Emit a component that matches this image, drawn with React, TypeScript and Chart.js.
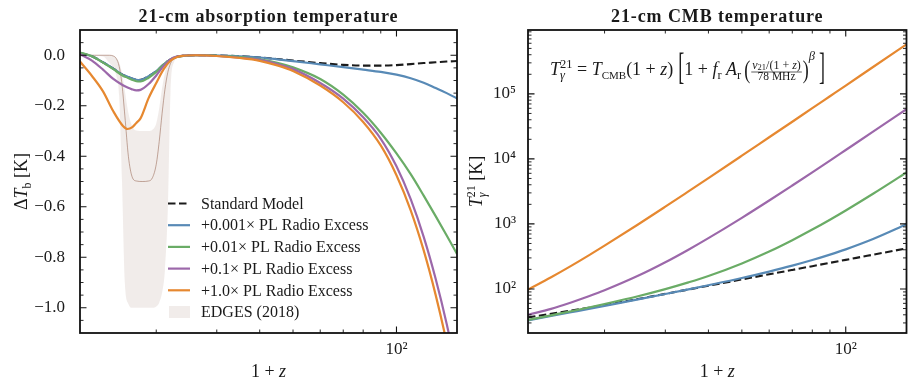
import React, { useEffect, useRef } from "react";
import { Chart, registerables } from "chart.js";
Chart.register(...registerables);

const FF = "'Liberation Serif', 'Times New Roman', serif";

// ---------------- Left panel: 21-cm absorption temperature ----------------
const zLeft = [12, 13, 14, 15, 16, 16.5, 17, 17.5, 18, 19, 20, 21, 22, 23, 24, 26, 28, 30, 35, 40, 45, 50, 60, 70, 80, 90, 100, 110, 120, 130, 140, 150];
const dTStandard = [0.009, -0.004, -0.028, -0.053, -0.078, -0.085, -0.092, -0.097, -0.097, -0.083, -0.063, -0.037, -0.017, -0.006, -0.002, 0, 0, -0.001, -0.004, -0.009, -0.015, -0.021, -0.031, -0.038, -0.041, -0.041, -0.039, -0.035, -0.031, -0.028, -0.025, -0.023];
const dTRadio0001 = [0.009, -0.004, -0.028, -0.053, -0.078, -0.085, -0.092, -0.097, -0.098, -0.083, -0.063, -0.037, -0.017, -0.006, -0.002, 0, 0, -0.001, -0.004, -0.009, -0.016, -0.023, -0.036, -0.047, -0.057, -0.066, -0.077, -0.091, -0.109, -0.13, -0.15, -0.171];
const dTRadio001 = [0.011, -0.004, -0.029, -0.055, -0.081, -0.089, -0.097, -0.103, -0.104, -0.089, -0.066, -0.038, -0.017, -0.006, -0.002, 0, 0, -0.002, -0.007, -0.016, -0.03, -0.048, -0.094, -0.156, -0.228, -0.307, -0.389, -0.471, -0.556, -0.637, -0.714, -0.787];
const dTRadio01 = [0.004, -0.021, -0.057, -0.094, -0.119, -0.128, -0.135, -0.139, -0.137, -0.114, -0.08, -0.043, -0.016, -0.005, -0.001, 0, -0.001, -0.003, -0.01, -0.018, -0.035, -0.055, -0.11, -0.172, -0.246, -0.331, -0.44, -0.57, -0.719, -0.885, -1.064, -1.257];
const dTRadio1 = [-0.025, -0.082, -0.143, -0.222, -0.28, -0.292, -0.286, -0.268, -0.25, -0.17, -0.11, -0.056, -0.022, -0.007, -0.002, 0, -0.001, -0.003, -0.011, -0.022, -0.04, -0.062, -0.12, -0.186, -0.264, -0.357, -0.475, -0.614, -0.773, -0.949, -1.138, -1.339];

// EDGES (2018) band and best-fit profile
const zEdges = [12, 14, 14.6, 15.0, 15.3, 15.6, 15.9, 16.2, 16.6, 17.0, 17.5, 18.2, 19.0, 19.5, 20.0, 20.4, 20.8, 21.2, 21.6, 22.0, 22.5, 23.5, 25];
const edgesUpper = [0, 0, 0, -0.002, -0.01, -0.03, -0.07, -0.14, -0.23, -0.28, -0.298, -0.3, -0.3, -0.295, -0.27, -0.21, -0.13, -0.07, -0.03, -0.012, -0.004, 0, 0];
const edgesLower = [0, -0.005, -0.03, -0.05, -0.08, -0.16, -0.5, -0.9, -0.985, -1.0, -1.0, -1.0, -1.0, -1.0, -0.995, -0.98, -0.94, -0.85, -0.62, -0.15, -0.03, -0.003, 0];
const edgesCenter = [0, 0, 0, -0.003, -0.013, -0.044, -0.116, -0.237, -0.402, -0.48, -0.498, -0.5, -0.498, -0.485, -0.432, -0.342, -0.23, -0.135, -0.069, -0.033, -0.012, -0.001, 0];

const leftYTicks = [-1.0, -0.8, -0.6, -0.4, -0.2, 0.0];

// ---------------- Right panel: 21-cm CMB temperature ----------------
const zRight = [12, 14, 16, 18, 20, 25, 30, 35, 40, 50, 60, 70, 80, 90, 100, 120, 150];
const TStandard = [36.5, 41.5, 46.5, 51.5, 56.5, 70, 84, 98, 112, 140, 168, 196, 224, 252, 280, 336, 420];
const TRadio0001 = [32.8, 38.3, 43.8, 49.3, 54.9, 69.0, 83.5, 98.5, 114, 147, 185, 228, 278, 337, 406, 585, 985];
const TRadio001 = [33.3, 39.3, 45.4, 51.8, 58.6, 77.2, 99.3, 126, 158, 247, 376, 562, 818, 1160, 1610, 2910, 6180];
const TRadio01 = [40, 49.4, 61.9, 77.0, 95.3, 159, 257, 401, 604, 1240, 2290, 3900, 6220, 9420, 13700, 26200, 58100];
const TRadio1 = [97.5, 151, 226, 328, 463, 979, 1840, 3160, 5060, 11200, 21500, 37300, 60300, 91900, 134000, 259000, 577000];

const rightYTicks = [1e2, 1e3, 1e4, 1e5];
const supLabel: Record<string, string> = { "100": "10²", "1000": "10³", "10000": "10⁴", "100000": "10⁵" };

const LABELS = ["Standard Model", "+0.001× PL Radio Excess", "+0.01× PL Radio Excess", "+0.1× PL Radio Excess", "+1.0× PL Radio Excess", "EDGES (2018)"];
const COLORS = ["#1b1b1b", "rgb(88,138,182)", "rgb(106,172,102)", "rgb(156,104,170)", "rgb(230,136,48)"];
const EDGES_FILL = "rgba(150,110,90,0.13)";
const EDGES_LINE = "rgba(150,100,80,0.55)";

// ---------------- rich text helpers ----------------
type Run = { t: string; s: number; i?: boolean; b?: boolean; dy?: number };
type Item =
  | { k: "r"; runs: Run[] }
  | { k: "ss"; sup?: Run[]; sub?: Run[] }
  | { k: "big"; t: string; s: number; sy: number; cy: number }
  | { k: "frac"; num: Run[]; den: Run[]; ny: number; dy: number; ly: number; pad: number }
  | { k: "gap"; w: number };

const fnt = (r: { s: number; i?: boolean; b?: boolean }) => `${r.i ? "italic " : ""}${r.b ? "bold " : ""}${r.s}px ${FF}`;
function runsW(ctx: CanvasRenderingContext2D, runs: Run[]) {
  let w = 0;
  for (const r of runs) { ctx.font = fnt(r); w += ctx.measureText(r.t).width; }
  return w;
}
function drawRuns(ctx: CanvasRenderingContext2D, runs: Run[], x: number, y: number) {
  for (const r of runs) { ctx.font = fnt(r); ctx.fillText(r.t, x, y + (r.dy || 0)); x += ctx.measureText(r.t).width; }
  return x;
}
function itemW(ctx: CanvasRenderingContext2D, it: Item): number {
  if (it.k === "r") return runsW(ctx, it.runs);
  if (it.k === "ss") return Math.max(it.sup ? runsW(ctx, it.sup) : 0, it.sub ? runsW(ctx, it.sub) : 0);
  if (it.k === "big") { ctx.font = fnt({ s: it.s }); return ctx.measureText(it.t).width; }
  if (it.k === "frac") return Math.max(runsW(ctx, it.num), runsW(ctx, it.den)) + 2 * it.pad;
  return it.w;
}
function itemsW(ctx: CanvasRenderingContext2D, items: Item[]) { return items.reduce((a, it) => a + itemW(ctx, it), 0); }
function drawItems(ctx: CanvasRenderingContext2D, items: Item[], x: number, y: number) {
  ctx.textAlign = "left";
  ctx.textBaseline = "alphabetic";
  for (const it of items) {
    const w = itemW(ctx, it);
    if (it.k === "r") drawRuns(ctx, it.runs, x, y);
    else if (it.k === "ss") { if (it.sup) drawRuns(ctx, it.sup, x, y); if (it.sub) drawRuns(ctx, it.sub, x, y); }
    else if (it.k === "big") {
      ctx.save();
      ctx.font = fnt({ s: it.s });
      ctx.translate(x, y + it.cy);
      ctx.scale(1, it.sy);
      ctx.fillText(it.t, 0, 0.25 * it.s);
      ctx.restore();
    } else if (it.k === "frac") {
      const nw = runsW(ctx, it.num), dw = runsW(ctx, it.den);
      drawRuns(ctx, it.num, x + (w - nw) / 2, y + it.ny);
      drawRuns(ctx, it.den, x + (w - dw) / 2, y + it.dy);
      ctx.fillRect(x + 1, y + it.ly - 0.35, w - 2, 0.7);
    }
    x += w;
  }
}

const TXT = "#1a1a1a";

function drawTicksFrame(chart: any, xMaj: number[], xMin: number[], yMaj: number[], yMin: number[]) {
  const { ctx, chartArea: a, scales } = chart;
  const sx = scales.x, sy = scales.y;
  ctx.save();
  ctx.strokeStyle = "#111";
  const MAJ = 6.5, MIN = 3.5;
  const vx = (vals: number[], len: number) => vals.forEach((v) => {
    const p = sx.getPixelForValue(v);
    ctx.moveTo(p, a.bottom); ctx.lineTo(p, a.bottom - len);
    ctx.moveTo(p, a.top); ctx.lineTo(p, a.top + len);
  });
  const vy = (vals: number[], len: number) => vals.forEach((v) => {
    const p = sy.getPixelForValue(v);
    ctx.moveTo(a.left, p); ctx.lineTo(a.left + len, p);
    ctx.moveTo(a.right, p); ctx.lineTo(a.right - len, p);
  });
  ctx.lineWidth = 0.9;
  ctx.beginPath(); vx(xMin, MIN); vy(yMin, MIN); ctx.stroke();
  ctx.lineWidth = 1.1;
  ctx.beginPath(); vx(xMaj, MAJ); vy(yMaj, MAJ); ctx.stroke();
  ctx.lineWidth = 1.8;
  ctx.strokeRect(a.left, a.top, a.right - a.left, a.bottom - a.top);
  ctx.restore();
}

function drawTitle(chart: any, text: string) {
  const { ctx, chartArea: a } = chart;
  ctx.save();
  ctx.fillStyle = TXT;
  ctx.font = `bold 18px ${FF}`;
  (ctx as any).letterSpacing = "0.9px";
  ctx.textAlign = "center";
  ctx.textBaseline = "alphabetic";
  ctx.fillText(text, (a.left + a.right) / 2, 22);
  ctx.restore();
}

function drawXTitle(chart: any) {
  const { ctx, chartArea: a } = chart;
  const items: Item[] = [{ k: "r", runs: [{ t: "1 + ", s: 18 }, { t: "z", s: 18, i: true }] }];
  ctx.save();
  ctx.fillStyle = TXT;
  const w = itemsW(ctx, items);
  drawItems(ctx, items, (a.left + a.right) / 2 - w / 2, 377);
  ctx.restore();
}

function drawYTitle(chart: any, items: Item[], cx: number) {
  const { ctx, chartArea: a } = chart;
  ctx.save();
  ctx.fillStyle = TXT;
  const w = itemsW(ctx, items);
  ctx.translate(cx, (a.top + a.bottom) / 2);
  ctx.rotate(-Math.PI / 2);
  drawItems(ctx, items, -w / 2, 0);
  ctx.restore();
}

const pts = (xs: number[], ys: number[]) => xs.map((x, i) => ({ x, y: ys[i] }));

function leftMinorY() {
  const out: number[] = [];
  for (let i = -21; i <= 1; i++) if (i % 4 !== 0) out.push(i * 0.05);
  return out;
}
function rightMinorY() {
  const out: number[] = [];
  for (let k = 1; k <= 5; k++) for (let m = 2; m <= 9; m++) { const v = m * Math.pow(10, k); if (v >= 21 && v <= 9.6e5) out.push(v); }
  return out;
}
const xMinorTicks = [20, 30, 40, 50, 60, 70, 80, 90];

function lineDs(label: string, xs: number[], ys: number[], color: string, order: number, dash?: number[]) {
  return {
    label, data: pts(xs, ys), borderColor: color, backgroundColor: color, borderWidth: dash ? 2.1 : 2.2,
    borderDash: dash || [], pointRadius: 0, fill: false, cubicInterpolationMode: "monotone" as const, order,
  };
}

function xScale(min: number, max: number) {
  return {
    type: "logarithmic" as const, min, max,
    grid: { display: false }, border: { display: false },
    afterFit: (s: any) => { s.height = 59; },
    afterBuildTicks: (s: any) => { s.ticks = [{ value: 100 }]; },
    ticks: { callback: (v: any) => supLabel[String(v)] || "", padding: -2, maxRotation: 0, autoSkip: false, font: { family: FF, size: 17 }, color: TXT },
  };
}

function leftConfig(): any {
  const plugin = {
    id: "leftDecor",
    afterDraw(chart: any) {
      drawTicksFrame(chart, [100], xMinorTicks, leftYTicks, leftMinorY());
      drawTitle(chart, "21-cm absorption temperature");
      drawXTitle(chart);
      drawYTitle(chart, [{ k: "r", runs: [{ t: "Δ", s: 18 }, { t: "T", s: 18, i: true }, { t: "b", s: 12, dy: 4 }, { t: " [K]", s: 18 }] }], 27);
      // legend
      const { ctx } = chart;
      ctx.save();
      const rows = [3, 4, 5, 6, 7, 1];
      rows.forEach((di, r) => {
        const ds = chart.data.datasets[di];
        const y = 203.5 + r * 21.7;
        if (r < 5) {
          ctx.strokeStyle = ds.borderColor;
          ctx.lineWidth = ds.borderWidth;
          ctx.setLineDash(ds.borderDash || []);
          ctx.beginPath(); ctx.moveTo(168, y); ctx.lineTo(190, y); ctx.stroke();
          ctx.setLineDash([]);
        } else {
          ctx.fillStyle = EDGES_FILL;
          ctx.fillRect(169, y - 6, 21, 12);
        }
        ctx.fillStyle = TXT;
        ctx.font = `16px ${FF}`;
        ctx.textAlign = "left";
        ctx.textBaseline = "middle";
        ctx.fillText(ds.label, 201, y + 1);
      });
      ctx.restore();
    },
  };
  return {
    type: "line",
    data: {
      datasets: [
        { label: "EDGES upper", data: pts(zEdges, edgesUpper), borderWidth: 0, pointRadius: 0, fill: false, cubicInterpolationMode: "monotone", order: 12 },
        { label: LABELS[5], data: pts(zEdges, edgesLower), borderWidth: 0, pointRadius: 0, fill: "-1", backgroundColor: EDGES_FILL, cubicInterpolationMode: "monotone", order: 11 },
        { label: "EDGES profile", data: pts(zEdges, edgesCenter), borderColor: EDGES_LINE, borderWidth: 1, pointRadius: 0, fill: false, cubicInterpolationMode: "monotone", order: 10 },
        lineDs(LABELS[0], zLeft, dTStandard, COLORS[0], 8, [7.5, 3.5]),
        lineDs(LABELS[1], zLeft, dTRadio0001, COLORS[1], 7),
        lineDs(LABELS[2], zLeft, dTRadio001, COLORS[2], 6),
        lineDs(LABELS[3], zLeft, dTRadio01, COLORS[3], 5),
        lineDs(LABELS[4], zLeft, dTRadio1, COLORS[4], 4),
      ],
    },
    options: {
      animation: false, responsive: true, maintainAspectRatio: false, events: [],
      layout: { padding: { top: 30, right: 1, left: 0, bottom: 0 } },
      plugins: { legend: { display: false }, title: { display: false }, tooltip: { enabled: false } },
      scales: {
        x: xScale(12, 150),
        y: {
          type: "linear", min: -1.1, max: 0.1,
          grid: { display: false }, border: { display: false },
          afterFit: (s: any) => { s.width = 80; },
          afterBuildTicks: (s: any) => { s.ticks = leftYTicks.map((v) => ({ value: v })); },
          ticks: { callback: (v: any) => (Math.abs(v) < 1e-9 ? "0.0" : "−" + Math.abs(v).toFixed(1)), padding: 7, font: { family: FF, size: 17 }, color: TXT },
        },
      },
    },
    plugins: [plugin],
  };
}

function rightConfig(): any {
  const M = 18, S = 12.5;
  const formula: Item[] = [
    { k: "r", runs: [{ t: "T", s: M, i: true }] },
    { k: "ss", sup: [{ t: "21", s: S, dy: -7.5 }], sub: [{ t: "γ", s: S, i: true, dy: 3.5 }] },
    { k: "r", runs: [{ t: " = ", s: M }, { t: "T", s: M, i: true }, { t: "CMB", s: 11, dy: 3.5 }, { t: "(1 + ", s: M }, { t: "z", s: M, i: true }, { t: ")", s: M }] },
    { k: "gap", w: 5 },
    { k: "big", t: "[", s: M, sy: 2.1, cy: -5 },
    { k: "r", runs: [{ t: "1 + ", s: M }, { t: "f", s: M, i: true }, { t: "r", s: S, dy: 3.5 }, { t: " ", s: M }, { t: "A", s: M, i: true }, { t: "r", s: S, dy: 3.5 }] },
    { k: "gap", w: 3 },
    { k: "big", t: "(", s: M, sy: 1.45, cy: -4 },
    {
      k: "frac", pad: 2, ny: -6.5, dy: 5, ly: -3,
      num: [{ t: "ν", s: 12, i: true }, { t: "21", s: 8.5, dy: 1.5 }, { t: "/(1 + ", s: 12 }, { t: "z", s: 12, i: true }, { t: ")", s: 12 }],
      den: [{ t: "78 MHz", s: 11.5 }],
    },
    { k: "big", t: ")", s: M, sy: 1.45, cy: -4 },
    { k: "ss", sup: [{ t: "β", s: S, i: true, dy: -15 }] },
    { k: "gap", w: 4 },
    { k: "big", t: "]", s: M, sy: 2.1, cy: -5 },
  ];
  const plugin = {
    id: "rightDecor",
    afterDraw(chart: any) {
      drawTicksFrame(chart, [100], xMinorTicks, rightYTicks, rightMinorY());
      drawTitle(chart, "21-cm CMB temperature");
      drawXTitle(chart);
      drawYTitle(chart, [
        { k: "r", runs: [{ t: "T", s: 18, i: true }] },
        { k: "ss", sup: [{ t: "21", s: 12, dy: -7.5 }], sub: [{ t: "γ", s: 12, i: true, dy: 4 }] },
        { k: "r", runs: [{ t: " [K]", s: 18 }] },
      ], 24);
      const { ctx } = chart;
      ctx.save();
      ctx.fillStyle = TXT;
      drawItems(ctx, formula, 550 - 458, 75);
      ctx.restore();
    },
  };
  return {
    type: "line",
    data: {
      datasets: [
        lineDs(LABELS[0], zRight, TStandard, COLORS[0], 8, [7.5, 3.5]),
        lineDs(LABELS[1], zRight, TRadio0001, COLORS[1], 7),
        lineDs(LABELS[2], zRight, TRadio001, COLORS[2], 6),
        lineDs(LABELS[3], zRight, TRadio01, COLORS[3], 5),
        lineDs(LABELS[4], zRight, TRadio1, COLORS[4], 4),
      ],
    },
    options: {
      animation: false, responsive: true, maintainAspectRatio: false, events: [],
      layout: { padding: { top: 30, right: 9.5, left: 0, bottom: 0 } },
      plugins: { legend: { display: false }, title: { display: false }, tooltip: { enabled: false } },
      scales: {
        x: xScale(12, 150),
        y: {
          type: "logarithmic", min: 21, max: 9.6e5,
          grid: { display: false }, border: { display: false },
          afterFit: (s: any) => { s.width = 70; },
          afterBuildTicks: (s: any) => { s.ticks = rightYTicks.map((v) => ({ value: v })); },
          ticks: { callback: (v: any) => supLabel[String(v)] || "", padding: 4, font: { family: FF, size: 17 }, color: TXT },
        },
      },
    },
    plugins: [plugin],
  };
}

export default function App() {
  const leftRef = useRef<HTMLCanvasElement>(null);
  const rightRef = useRef<HTMLCanvasElement>(null);
  useEffect(() => {
    const c1 = new Chart(leftRef.current!, leftConfig());
    const c2 = new Chart(rightRef.current!, rightConfig());
    return () => { c1.destroy(); c2.destroy(); };
  }, []);
  return (
    <div style={{ position: "absolute", left: 0, top: 0, width: 916, height: 392, background: "#fff" }}>
      <div style={{ position: "absolute", left: 0, top: 0, width: 458, height: 392 }}>
        <canvas ref={leftRef} />
      </div>
      <div style={{ position: "absolute", left: 458, top: 0, width: 458, height: 392 }}>
        <canvas ref={rightRef} />
      </div>
    </div>
  );
}
